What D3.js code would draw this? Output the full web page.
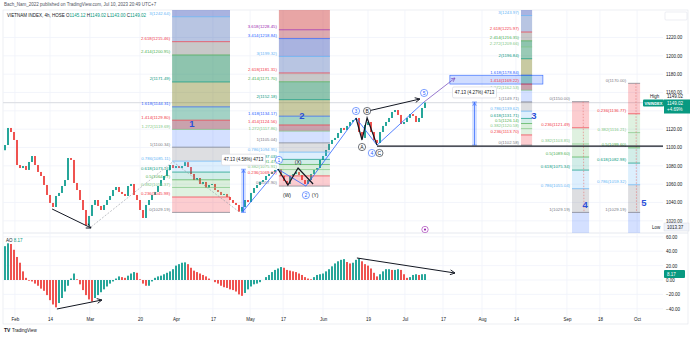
<!DOCTYPE html>
<html lang="en">
<head>
<meta charset="utf-8">
<title>VIETNAM INDEX, 4h</title>
<script src="https://d3js.org/d3.v7.min.js"></script>
<style>
body{margin:0;background:#fff;}
svg text{font-family:"Liberation Sans",Arial,sans-serif;}
</style>
</head>
<body>
<div id="chart"></div>
<script>

// closes (one bar every ~3px), open = previous close
var firstOpen = 1097;
var closes = [
 1102.7,1121.3,1116.9,1108.2,1080.9,1077.6,1079.8,1075.5,1084.2,1090.7,
 1080.9,1073.3,1068.9,1059.1,1048.2,1039.5,1035.1,1047.1,1050.4,1058.0,
 1064.5,1088.5,1086.4,1061.3,1053.6,1042.7,1031.8,1015.0,1025.3,1037.3,
 1042.7,1036.2,1031.8,1037.3,1042.7,1047.1,1053.6,1056.9,1051.5,1049.3,
 1047.1,1058.0,1060.2,1048.2,1042.7,1031.8,1023.1,1037.3,1042.7,1048.2,
 1051.5,1058.0,1064.5,1068.9,1075.5,1080.9,1077.6,1079.8,1077.6,1079.8,
 1084.0,1078.7,1071.1,1064.5,1066.7,1060.2,1062.4,1055.8,1059.1,1060.2,
 1053.6,1051.5,1048.2,1049.3,1046.0,1042.7,1039.5,1037.3,1030.0,1035.1,
 1042.7,1040.5,1050.4,1055.8,1059.1,1062.4,1064.5,1068.9,1071.1,1073.3,
 1075.5,1076.5,1068.9,1063.5,1060.2,1068.9,1071.1,1073.3,1070.0,1064.5,
 1060.2,1064.5,1071.1,1075.5,1077.6,1086.4,1090.7,1097.3,1103.8,1108.2,
 1110.4,1115.8,1121.3,1119.1,1123.5,1127.8,1130.0,1132.2,1116.9,1110.4,
 1124.5,1127.8,1116.9,1108.2,1104.9,1116.9,1123.5,1127.8,1132.2,1138.7,
 1140.9,1135.5,1125.6,1127.8,1132.2,1136.5,1134.4,1127.8,1132.2,1143.1,
 1149.02
];

var aoValues = [
 47,51,50,42,32,24,12,3,-1,-2,
 -5,-8,-12,-15,-21,-28,-34,-38,-32,-25,
 -16,-8,2,9,1,-6,-14,-21,-27,-30,
 -25,-21,-17,-13,-9,-5,-2,2,5,4,
 3,6,9,11,10,1,-5,-8,-8,-2,
 3,5,6,8,10,12,15,20,22,24,
 24.5,22,17,13,11,9,7,5,2,0,
 -3,-5,-8,-10,-11,-13,-14,-16,-20,-22,
 -18,-13,-9,-6,-5,-3,0,4,7,11,
 14,16,18,17,14,13,12,11,9,7,
 4,2,1,4,7,8,9,12,15,19,
 23,26,28,29,25,23,24,28,30,26,
 22,20,16,10,5,8,12,15,15,14,
 14,15,14,8,3,4,7,8,7,8,
 8.17
];

var dateLabels  = ["Feb","14","Mar","20","Apr","17","May","17","Jun","19","Jul","17","Aug","14","Sep","18","Oct"];
var dateBars    = [3.3,15,28.3,45,57,69.3,81.7,92.7,106,121,133.3,146,159,170.3,187.3,198.3,210.7];
var priceGrid   = [1020,1040,1060,1080,1100,1120,1140,1160,1180,1200,1220];
var priceLabels = [1020,1040,1060,1080,1100,1120,1160,1180,1200,1220];
var aoTicks     = [-40,-20,0,20,40,60];

// fibonacci levels and their colours
var fibKeys  = [0,0.236,0.382,0.5,0.618,0.786,1,1.272,1.414,1.618,2,2.272,2.414,2.618,3,3.414,3.618,4.236];
var fibLines = ["#787b86","#f23645","#81c784","#4caf50","#089981","#64b5f6","#787b86","#81c784","#f23645","#2962ff","#089981","#81c784","#4caf50","#f23645","#64b5f6","#2962ff","#9c27b0","#e91e63"];
var fibFills = ["#ffffff","#f23645","#81c784","#4caf50","#089981","#64b5f6","#787b86","#2962ff","#873149","#198e6e","#757a16","#1d895d","#1d895d","#484848","#3459ac","#4057bb","#a72a39","#cc3737"];
var fibAlpha = [0,0.25,0.25,0.2,0.18,0.22,0.25,0.2,0.45,0.4,0.4,0.45,0.5,0.3,0.35,0.45,0.4,0.45];

var boxNames  = ["1","2","3","4","5"];
var boxFrom   = [55.7,91.3,172,189,207.7];
var boxTo     = [75,108.3,175.7,194.7,211.7];
var boxBase   = [1029.19,1057.9,1102.58,1150,1170];
var boxRange  = [71.15,47.14,47.13,-120.81,-140.81];
var boxLevels = [
 [0,0.236,0.382,0.5,0.618,0.786,1,1.272,1.414,1.618,2,2.414,2.618,3,3.414],
 [0,0.236,0.382,0.5,0.618,0.786,1,1.272,1.414,1.618,2,2.414,2.618,3,3.414,3.618,4.236],
 [0,0.236,0.382,0.5,0.618,0.786,1,1.272,1.414,1.618,2,2.272,2.414,2.618,3,3.414],
 [0,0.236,0.382,0.5,0.618,0.786,1,1.272],
 [0,0.236,0.382,0.5,0.618,0.786,1,1.272]
];
var boxNameBar   = [62.3,99,176.3,193.4,213];
var boxNamePrice = [1126.7,1134.4,1134.4,1037.3,1040.5];

// drawings
var fibTrend   = [[28.7,1013.37],[56,1084.5],[78.3,1029.19]];
var wavePath   = [[79,1029.19],[91,1076.3],[100.3,1057.9],[117,1132.2],[124,1102.58],[139.7,1149.71]];
var waveTarget = [[139.7,1149.71],[150,1175.8]];
var wxyPath    = [[91,1076.5],[94.3,1059.1],[97.7,1077.6],[102.7,1060.2]];
var abcPath    = [[117,1132.2],[119,1108.2],[120.7,1132.2],[124,1102.6]];
var topArrow   = [[121,1139.8],[138.3,1152.9]];
var lowArrow   = [[15.7,1032.9],[28.7,1012.2]];
var support    = [[124,1101.5],[220,1101.5]];
var aoArrow1   = [[17.3,-40.3],[32.3,-27.8]];
var aoArrow2   = [[117.3,30.6],[150,9.7]];

var markText  = ["1","2","3","B","A","4","C","5"];
var markBar   = [91.3,100.3,117,120.7,119,122.3,124.8,139.7];
var markPrice = [1086.4,1048,1139.8,1139.8,1100.5,1094,1094,1159.5];
var markColor = ["#2962ff","#2962ff","#2962ff","#131722","#131722","#2962ff","#131722","#2962ff"];
var noteText  = ["(W)","(X)","(Y)"];
var noteBar   = [94,97.7,103.4];
var notePrice = [1048,1084,1048];

var measFrom = [78.7,155.7];
var measTo   = [80.3,157.3];
var measLow  = [1029.19,1102.58];
var measHigh = [1076.32,1149.71];
var measText = ["47.13 (4.58%) 4713","47.13 (4.27%) 4713"];

var W = 690, H = 338;
var plotL = 3, plotR = 663;
var svg = d3.select("#chart").append("svg").attr("width", W).attr("height", H);

var x   = d3.scaleLinear().domain([0, 140]).range([5, 425]);
var y   = d3.scaleLinear().domain([1007.8, 1250]).range([232, 10]);
var yAo = d3.scaleLinear().domain([-52.8, 65.3]).range([318, 233]);

var defs = svg.append("defs");
defs.append("clipPath").attr("id", "pclip").append("rect").attr("x", plotL).attr("y", 10).attr("width", plotR - plotL).attr("height", 223);
defs.append("clipPath").attr("id", "aclip").append("rect").attr("x", plotL).attr("y", 233).attr("width", plotR - plotL).attr("height", 85);
function marker(id, color){
	defs.append("marker").attr("id", id).attr("viewBox", "0 0 10 10").attr("refX", 9).attr("refY", 5)
		.attr("markerWidth", 6).attr("markerHeight", 6).attr("orient", "auto")
		.append("path").attr("d", "M1,1L9,5L1,9").attr("fill", "none").attr("stroke", color).attr("stroke-width", 1.5);
}
marker("ab", "#131722");
marker("ap", "#7e57c2");
marker("am", "#2962ff");

// header
svg.append("text").attr("x", 4).attr("y", 6).attr("font-size", 4.5).attr("fill", "#50535e")
	.text("Bach_Nam_2022 published on TradingView.com, Jul 10, 2023 20:49 UTC+7");

// frame and grid
svg.append("rect").attr("x", plotL).attr("y", 10).attr("width", W - plotL - 2).attr("height", 314)
	.attr("fill", "none").attr("stroke", "#e0e3eb").attr("stroke-width", 0.6);
svg.append("line").attr("x1", plotL).attr("x2", W - 2).attr("y1", 233).attr("y2", 233).attr("stroke", "#e0e3eb").attr("stroke-width", 0.8);

var grid = svg.append("g").attr("stroke", "#f0f3fa").attr("stroke-width", 0.8);
grid.selectAll("line.v").data(dateBars).enter().append("line")
	.attr("x1", d => x(d)).attr("x2", d => x(d)).attr("y1", 10).attr("y2", 318);
grid.selectAll("line.h").data(priceGrid).enter().append("line")
	.attr("x1", plotL).attr("x2", plotR).attr("y1", d => y(d)).attr("y2", d => y(d));
grid.selectAll("line.a").data(aoTicks).enter().append("line")
	.attr("x1", plotL).attr("x2", plotR).attr("y1", d => yAo(d)).attr("y2", d => yAo(d));

var pane = svg.append("g").attr("clip-path", "url(#pclip)");

// last price line
pane.append("line").attr("x1", plotL).attr("x2", plotR).attr("y1", y(1149.02)).attr("y2", y(1149.02))
	.attr("stroke", "#dfe1e6").attr("stroke-width", 1.2);

// candles
var candles = closes.map(function(c, i){ return {i: i, o: i ? closes[i - 1] : firstOpen, c: c}; });
pane.selectAll("rect.candle").data(candles).enter().append("rect")
	.attr("x", d => x(d.i) - 1).attr("width", 2)
	.attr("y", d => y(Math.max(d.o, d.c)))
	.attr("height", d => Math.max(0.8, Math.abs(y(d.o) - y(d.c))))
	.attr("fill", d => d.c >= d.o ? "#26a69a" : "#ef5350");

// highlight box around 1.414 of box 3
pane.append("rect").attr("x", x(148.3)).attr("width", x(179.3) - x(148.3))
	.attr("y", y(1178.84)).attr("height", y(1169.22) - y(1178.84))
	.attr("fill", "#2962ff").attr("fill-opacity", 0.22).attr("stroke", "#2962ff").attr("stroke-width", 0.6);

// fib boxes
function fi(k){ return fibKeys.indexOf(k); }
boxNames.forEach(function(name, b){
	var lv = boxLevels[b];
	var x0 = x(boxFrom[b]), x1 = x(boxTo[b]);
	var price = function(k){ return boxBase[b] + k * boxRange[b]; };
	var g = pane.append("g");
	g.selectAll("rect").data(d3.pairs(lv)).enter().append("rect")
		.attr("x", x0).attr("width", x1 - x0)
		.attr("y", d => Math.min(y(price(d[0])), y(price(d[1]))))
		.attr("height", d => Math.abs(y(price(d[0])) - y(price(d[1]))))
		.attr("fill", d => fibFills[fi(d[1])]).attr("fill-opacity", d => fibAlpha[fi(d[1])]);
	g.selectAll("line").data(lv).enter().append("line")
		.attr("x1", x0).attr("x2", x1).attr("y1", d => y(price(d))).attr("y2", d => y(price(d)))
		.attr("stroke", d => fibLines[fi(d)]).attr("stroke-width", 0.7);
	g.selectAll("text").data(lv.filter(d => y(price(d)) > 13 && y(price(d)) < 233)).enter().append("text")
		.attr("x", x0 - 2).attr("y", d => y(price(d)) - 1.6)
		.attr("text-anchor", "end").attr("font-size", 4.3)
		.attr("fill", d => fibLines[fi(d)])
		.text(d => d + "(" + price(d).toFixed(2) + ")");
	if (boxRange[b] < 0) {
		g.append("line").attr("x1", x0 + (x1 - x0) * 0.65).attr("x2", x0 + (x1 - x0) * 0.7)
			.attr("y1", y(price(0))).attr("y2", y(price(1)))
			.attr("stroke", "#e57373").attr("stroke-width", 0.6).attr("stroke-dasharray", "1.5,1.5");
	}
	pane.append("text").attr("x", x(boxNameBar[b])).attr("y", y(boxNamePrice[b]) + 3.5)
		.attr("text-anchor", "middle").attr("font-size", 9.5).attr("font-weight", 600)
		.attr("fill", "#2b4fd8").text(name);
});

var line = d3.line().x(d => x(d[0])).y(d => y(d[1]));
pane.append("path").attr("d", line(fibTrend)).attr("fill", "none")
	.attr("stroke", "#9598a1").attr("stroke-width", 0.6).attr("stroke-dasharray", "2,1.5");

// measure tools
measFrom.forEach(function(f, m){
	var xa = x(f), xb = x(measTo[m]), yt = y(measHigh[m]), yb = y(measLow[m]);
	pane.append("rect").attr("x", xa).attr("width", xb - xa).attr("y", yt).attr("height", yb - yt)
		.attr("fill", "#2962ff").attr("fill-opacity", 0.2);
	pane.append("line").attr("x1", (xa + xb) / 2).attr("x2", (xa + xb) / 2).attr("y1", yb).attr("y2", yt + 0.5)
		.attr("stroke", "#2962ff").attr("stroke-width", 0.7).attr("marker-end", "url(#am)");
	pane.append("line").attr("x1", xa).attr("x2", xb).attr("y1", yt).attr("y2", yt).attr("stroke", "#2962ff").attr("stroke-width", 0.5);
	pane.append("line").attr("x1", xa).attr("x2", xb).attr("y1", yb).attr("y2", yb).attr("stroke", "#2962ff").attr("stroke-width", 0.5);
	var cx = (xa + xb) / 2;
	pane.append("rect").attr("x", cx - 22).attr("y", yt - 15).attr("width", 44).attr("height", 11).attr("rx", 1.5)
		.attr("fill", "#fff").attr("stroke", "#d1d4dc").attr("stroke-width", 0.6);
	pane.append("text").attr("x", cx).attr("y", yt - 8).attr("text-anchor", "middle")
		.attr("font-size", 4.5).attr("fill", "#131722").text(measText[m]);
});

// elliott waves
pane.append("path").attr("d", line(wavePath)).attr("fill", "none").attr("stroke", "#2962ff").attr("stroke-width", 0.8);
pane.append("path").attr("d", line(waveTarget)).attr("fill", "none").attr("stroke", "#7e57c2").attr("stroke-width", 0.8).attr("marker-end", "url(#ap)");
pane.append("path").attr("d", line(wxyPath)).attr("fill", "none").attr("stroke", "#131722").attr("stroke-width", 1.2);
pane.append("path").attr("d", line(abcPath)).attr("fill", "none").attr("stroke", "#131722").attr("stroke-width", 1.2);
pane.append("path").attr("d", line(topArrow)).attr("fill", "none").attr("stroke", "#131722").attr("stroke-width", 1).attr("marker-end", "url(#ab)");
pane.append("path").attr("d", line(lowArrow)).attr("fill", "none").attr("stroke", "#131722").attr("stroke-width", 1).attr("marker-end", "url(#ab)");
pane.append("path").attr("d", line(support)).attr("fill", "none").attr("stroke", "#131722").attr("stroke-width", 1.1);

markText.forEach(function(t, k){
	var g = pane.append("g").attr("transform", "translate(" + x(markBar[k]) + "," + y(markPrice[k]) + ")");
	g.append("circle").attr("r", 3.6).attr("fill", "#fff").attr("stroke", markColor[k]).attr("stroke-width", 0.6);
	g.append("text").attr("y", 1.7).attr("text-anchor", "middle").attr("font-size", 5).attr("fill", markColor[k]).text(t);
});
noteText.forEach(function(t, k){
	pane.append("text").attr("x", x(noteBar[k])).attr("y", y(notePrice[k]) + 1.8).attr("text-anchor", "middle")
		.attr("font-size", 5).attr("fill", "#131722").text(t);
});

// event marker
var ev = pane.append("g").attr("transform", "translate(" + x(140) + "," + y(1010.5) + ")");
ev.append("circle").attr("r", 3.2).attr("fill", "#fff").attr("stroke", "#9c27b0").attr("stroke-width", 0.6);
ev.append("circle").attr("r", 1.1).attr("fill", "#9c27b0");

// AO pane
var aoPane = svg.append("g").attr("clip-path", "url(#aclip)");
aoPane.selectAll("rect").data(aoValues).enter().append("rect")
	.attr("x", (d, i) => x(i) - 1).attr("width", 2)
	.attr("y", d => Math.min(yAo(d), yAo(0))).attr("height", d => Math.abs(yAo(d) - yAo(0)))
	.attr("fill", (d, i) => (i === 0 || d >= aoValues[i - 1]) ? "#26a69a" : "#ef5350");
var aoLine = d3.line().x(d => x(d[0])).y(d => yAo(d[1]));
aoPane.append("path").attr("d", aoLine(aoArrow1)).attr("fill", "none").attr("stroke", "#131722").attr("stroke-width", 1).attr("marker-end", "url(#ab)");
aoPane.append("path").attr("d", aoLine(aoArrow2)).attr("fill", "none").attr("stroke", "#131722").attr("stroke-width", 1).attr("marker-end", "url(#ab)");

var aoLegend = svg.append("text").attr("x", 6).attr("y", 242).attr("font-size", 4.5);
aoLegend.append("tspan").attr("fill", "#131722").text("AO ");
aoLegend.append("tspan").attr("fill", "#089981").text(aoValues[aoValues.length - 1].toFixed(2));

// legend
var legend = svg.append("text").attr("x", 7).attr("y", 16.5).attr("font-size", 4.5).attr("fill", "#131722");
legend.append("tspan").text("VIETNAM INDEX, 4h, HOSE  ");
[["O","1145.12"],["H","1149.02"],["L","1143.00"],["C","1149.02"]].forEach(function(p){
	legend.append("tspan").attr("fill", "#131722").text(p[0]);
	legend.append("tspan").attr("fill", "#089981").text(p[1] + "  ");
});

// axes
var axisFont = function(g){ g.select(".domain").remove(); g.selectAll("text").attr("font-size", 4.5).attr("fill", "#131722"); };
svg.append("g").attr("transform", "translate(665,0)")
	.call(d3.axisRight(y).tickValues(priceLabels).tickSize(0).tickPadding(1).tickFormat(d3.format(".2f"))).call(axisFont);
svg.append("g").attr("transform", "translate(665,0)")
	.call(d3.axisRight(yAo).tickValues(aoTicks).tickSize(0).tickPadding(1).tickFormat(d => (d < 0 ? "\u2212" + (-d).toFixed(2) : d.toFixed(2)))).call(axisFont);
svg.append("g").attr("transform", "translate(0,314)")
	.call(d3.axisBottom(x).tickValues(dateBars).tickSize(0).tickPadding(4).tickFormat((d, i) => dateLabels[i])).call(axisFont);

// price scale tags
svg.append("rect").attr("x", 665).attr("y", 12).attr("width", 22).attr("height", 8).attr("rx", 1)
	.attr("fill", "#fff").attr("stroke", "#e0e3eb").attr("stroke-width", 0.6);
svg.append("rect").attr("x", 648).attr("y", 94.2).attr("width", 41).attr("height", 4.8).attr("fill", "#fff");
svg.append("text").attr("x", 650).attr("y", 98.2).attr("font-size", 4.5).attr("fill", "#131722").text("High");
svg.append("text").attr("x", 667).attr("y", 98.2).attr("font-size", 4.5).attr("fill", "#131722").text("1149.02");
svg.append("rect").attr("x", 643).attr("y", 99.5).attr("width", 21).attr("height", 7).attr("rx", 1).attr("fill", "#089981");
svg.append("text").attr("x", 653.5).attr("y", 104.5).attr("text-anchor", "middle").attr("font-size", 4).attr("font-weight", 700).attr("fill", "#fff").text("VNINDEX");
svg.append("rect").attr("x", 664).attr("y", 99.5).attr("width", 26).attr("height", 14).attr("fill", "#089981");
svg.append("text").attr("x", 667).attr("y", 105).attr("font-size", 4.5).attr("fill", "#fff").text("1149.02");
svg.append("text").attr("x", 667).attr("y", 111).attr("font-size", 4.5).attr("fill", "#fff").text("+4.69%");
svg.append("rect").attr("x", 648).attr("y", 223).attr("width", 41).attr("height", 8).attr("fill", "#fff");
svg.append("text").attr("x", 652).attr("y", 228.5).attr("font-size", 4.5).attr("fill", "#131722").text("Low");
svg.append("rect").attr("x", 664).attr("y", 223).attr("width", 25).attr("height", 8).attr("fill", "#f0f3fa").attr("stroke", "#d1d4dc").attr("stroke-width", 0.4);
svg.append("text").attr("x", 667).attr("y", 228.5).attr("font-size", 4.5).attr("fill", "#131722").text("1013.37");
svg.append("rect").attr("x", 664).attr("y", yAo(8.17) - 4).attr("width", 21).attr("height", 8).attr("rx", 1).attr("fill", "#089981");
svg.append("text").attr("x", 667).attr("y", yAo(8.17) + 1.6).attr("font-size", 4.5).attr("fill", "#fff").text("8.17");

// footer
svg.append("text").attr("x", 4).attr("y", 332).attr("font-size", 5).attr("font-weight", 900).attr("fill", "#131722").text("TV");
svg.append("text").attr("x", 12).attr("y", 332).attr("font-size", 4.5).attr("fill", "#131722").text("TradingView");

</script>
</body>
</html>
